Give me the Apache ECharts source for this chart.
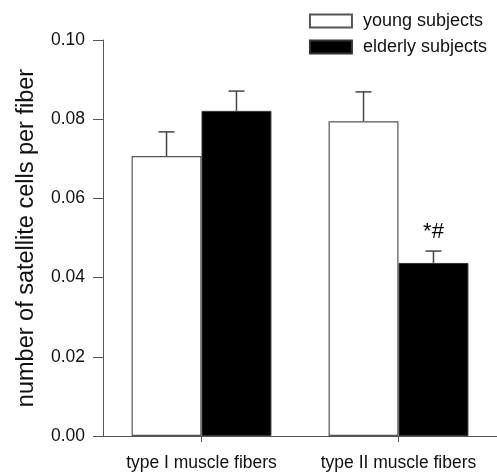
<!DOCTYPE html>
<html><head><meta charset="utf-8">
<script src="https://cdn.jsdelivr.net/npm/echarts@6/dist/echarts.min.js"></script>
<style>html,body{margin:0;padding:0;background:#fff}#c{width:497px;height:472px}</style>
</head><body><div id="c"></div>
<script>
const categories = ['type I muscle fibers', 'type II muscle fibers'];
const seriesNames = ['young subjects', 'elderly subjects'];
const youngValues = [0.0707, 0.0795];
const youngErrors = [0.0061, 0.0074];
const elderlyValues = [0.0821, 0.0437];
const elderlyErrors = [0.0050, 0.0030];
const yTicks = [0.00, 0.02, 0.04, 0.06, 0.08, 0.10];
const annotations = [{cat: 1, series: 1, text: '*#'}];

const FONT = 'Liberation Sans, Arial, sans-serif';
const GAP = 0.29;
const chart = echarts.init(document.getElementById('c'));

function errSeries(values, errors, side) {
  return {
    type: 'custom',
    z: 5,
    data: values.map((v, i) => [i, v, v + errors[i]]),
    renderItem: function (params, api) {
      const band = api.size([1, 0])[0];
      const off = side * band * (1 - GAP) / 4;
      const top = api.coord([api.value(0), api.value(2)]);
      const base = api.coord([api.value(0), api.value(1)]);
      const x = top[0] + off;
      const cap = 8;
      const style = {stroke: '#444', lineWidth: 1.5};
      return {type: 'group', children: [
        {type: 'line', shape: {x1: x, y1: base[1], x2: x, y2: top[1]}, style},
        {type: 'line', shape: {x1: x - cap, y1: top[1], x2: x + cap, y2: top[1]}, style}
      ]};
    }
  };
}

const annSeries = {
  type: 'custom',
  z: 6,
  data: annotations.map(a => [a.cat, (a.series ? elderlyValues : youngValues)[a.cat] + (a.series ? elderlyErrors : youngErrors)[a.cat], a.series, a.text]),
  renderItem: function (params, api) {
    const band = api.size([1, 0])[0];
    const side = api.value(2) ? 1 : -1;
    const off = side * band * (1 - GAP) / 4;
    const p = api.coord([api.value(0), api.value(1)]);
    const a = annotations[params.dataIndex];
    return {type: 'text', style: {x: p[0] + off, y: p[1] - 8, text: a.text, fill: '#000', font: '22px ' + FONT, textAlign: 'center', textVerticalAlign: 'bottom'}};
  }
};

chart.setOption({
  animation: false,
  backgroundColor: '#fff',
  textStyle: {fontFamily: FONT},
  legend: {
    right: 10, top: 12, orient: 'vertical', itemWidth: 42, itemHeight: 13, itemGap: 8,
    icon: 'rect', align: 'left', padding: 0,
    textStyle: {fontSize: 18, color: '#111', fontFamily: FONT, padding: [0, 0, 0, 6]},
    data: seriesNames
  },
  grid: {left: 103, right: -2, top: 40, bottom: 36},
  xAxis: {
    type: 'category', data: categories,
    axisLine: {lineStyle: {color: '#555', width: 1}},
    axisTick: {show: true, alignWithLabel: true, length: 6, lineStyle: {color: '#555'}},
    axisLabel: {color: '#111', fontSize: 17.5, margin: 18, fontFamily: FONT, interval: 0, hideOverlap: false},
    splitLine: {show: false}
  },
  yAxis: {
    type: 'value', min: 0, max: 0.10, interval: 0.02,
    name: 'number of satellite cells per fiber', nameLocation: 'middle', nameGap: 64,
    nameTextStyle: {fontSize: 23.5, color: '#111', fontFamily: FONT},
    axisLine: {show: true, lineStyle: {color: '#555', width: 1}},
    axisTick: {show: true, length: 10, lineStyle: {color: '#555'}},
    axisLabel: {color: '#111', fontSize: 17.5, margin: 18, fontFamily: FONT,
      formatter: v => { const t = yTicks.find(x => Math.abs(x - v) < 1e-9); return (t !== undefined ? t : v).toFixed(2); }},
    splitLine: {show: false}
  },
  series: [
    {name: seriesNames[0], type: 'bar', data: youngValues, barGap: '0%', barCategoryGap: (GAP * 100) + '%',
      itemStyle: {color: '#fff', borderColor: '#555', borderWidth: 1.2}},
    {name: seriesNames[1], type: 'bar', data: elderlyValues, barGap: '0%', barCategoryGap: (GAP * 100) + '%',
      itemStyle: {color: '#000', borderColor: '#333', borderWidth: 1}},
    errSeries(youngValues, youngErrors, -1),
    errSeries(elderlyValues, elderlyErrors, 1),
    annSeries
  ]
});
</script></body></html>
